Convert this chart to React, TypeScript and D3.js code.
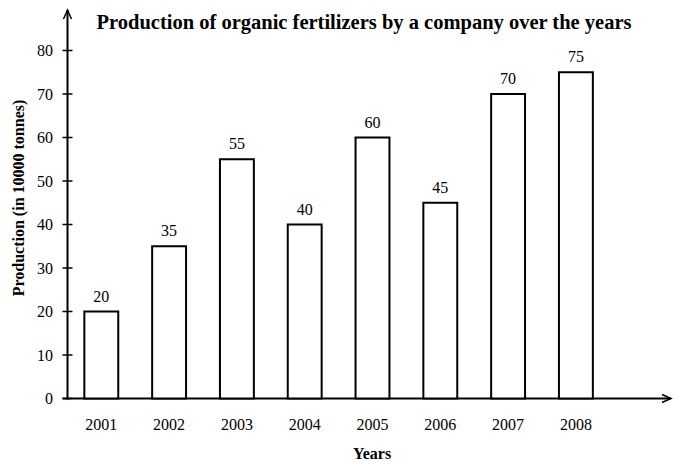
import React from "react";
import * as d3 from "d3";

const years = ["2001", "2002", "2003", "2004", "2005", "2006", "2007", "2008"];
const production = [20, 35, 55, 40, 60, 45, 70, 75];
const yTicks = [0, 10, 20, 30, 40, 50, 60, 70, 80];

const W = 673;
const H = 464;
const FONT = "'Liberation Serif', 'DejaVu Serif', serif";

export default function App() {
  const x = d3
    .scaleBand<string>()
    .domain(years)
    .range([67.4, 67.4 + 8 * 67.8])
    .paddingInner(0.5)
    .paddingOuter(0.25);
  const y = d3.scaleLinear().domain([0, 80]).range([398.5, 50.5]);
  const axisX = 67.5;
  const axisY = y(0);

  return (
    <svg
      width={W}
      height={H}
      style={{ position: "absolute", left: 0, top: 0, background: "#fff" }}
      fontFamily={FONT}
    >
      <text
        x={364}
        y={29}
        textAnchor="middle"
        fontSize={20.5}
        fontWeight="bold"
        fill="#000"
      >
        Production of organic fertilizers by a company over the years
      </text>

      {/* Y axis */}
      <line x1={axisX} x2={axisX} y1={axisY + 1} y2={10} stroke="#000" strokeWidth={2} />
      <polyline
        points={`${axisX - 4},${19} ${axisX},${10} ${axisX + 4},${19}`}
        fill="none"
        stroke="#000"
        strokeWidth={1.5}
      />
      {/* X axis */}
      <line x1={axisX - 5} x2={671} y1={axisY} y2={axisY} stroke="#000" strokeWidth={2} />
      <polyline
        points={`${662},${axisY - 4} ${671},${axisY} ${662},${axisY + 4}`}
        fill="none"
        stroke="#000"
        strokeWidth={1.5}
      />

      {yTicks.map((t) => (
        <g key={t}>
          <line x1={axisX - 5} x2={axisX + 5} y1={y(t)} y2={y(t)} stroke="#000" strokeWidth={1.5} />
          <text x={53} y={y(t) + 5.5} textAnchor="end" fontSize={16} fill="#000">
            {t}
          </text>
        </g>
      ))}

      {years.map((yr, i) => {
        const bx = x(yr)!;
        const bw = x.bandwidth();
        const top = y(production[i]);
        return (
          <g key={yr}>
            <rect
              x={bx}
              y={top}
              width={bw}
              height={axisY - top}
              fill="#fff"
              stroke="#000"
              strokeWidth={2}
            />
            <text x={bx + bw / 2} y={top - 10} textAnchor="middle" fontSize={16} fill="#000">
              {production[i]}
            </text>
            <text x={bx + bw / 2} y={430} textAnchor="middle" fontSize={16} fill="#000">
              {yr}
            </text>
          </g>
        );
      })}

      <text x={372} y={459} textAnchor="middle" fontSize={16} fontWeight="bold" fill="#000">
        Years
      </text>
      <text
        transform={`translate(24, 198) rotate(-90)`}
        textAnchor="middle"
        fontSize={16}
        fontWeight="bold"
        fill="#000"
      >
        Production (in 10000 tonnes)
      </text>
    </svg>
  );
}
